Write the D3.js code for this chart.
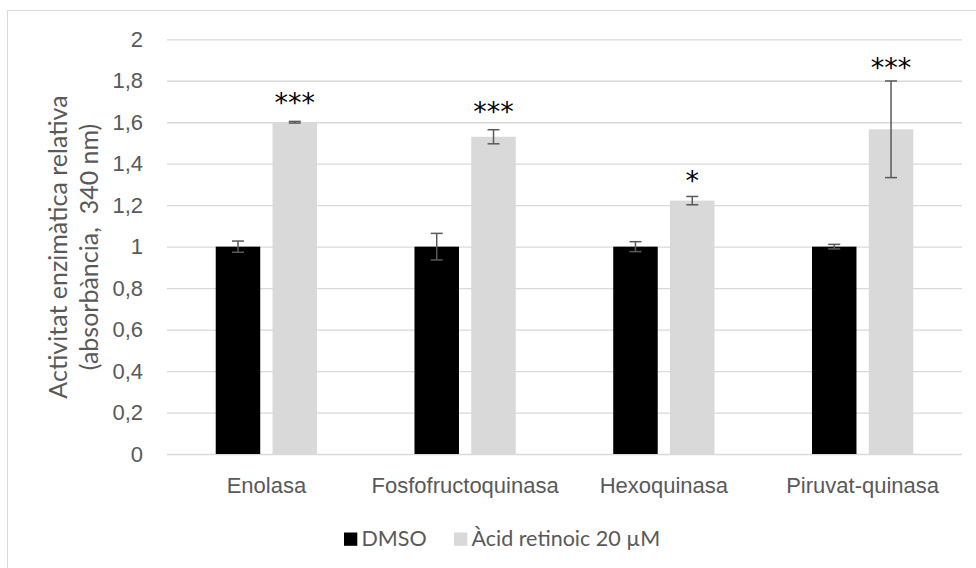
<!DOCTYPE html>
<html lang="ca">
<head>
    <meta charset="UTF-8">
    <title>Activitat enzimàtica relativa</title>
    <script src="https://d3js.org/d3.v7.min.js"></script>
    <style>
        body { margin: 0; background: #fff; }
        svg { display: block; font-family: Lato, "Open Sans", sans-serif; }
        .grid line { stroke: #d9d9d9; stroke-width: 1.3; }
        .axis text { fill: #595959; font-size: 22px; }
        .err { stroke: #595959; stroke-width: 1.5; }
        .star { font-family: "DejaVu Sans", sans-serif; font-size: 27px; fill: #000; }
    </style>
</head>
<body>
    <svg id="chart" width="976" height="568"></svg>

    <script>
        // data
        const categories = ["Enolasa", "Fosfofructoquinasa", "Hexoquinasa", "Piruvat-quinasa"];
        const series = ["DMSO", "Àcid retinoic 20 µM"];
        const dmsoValues = [1, 1, 1, 1];
        const dmsoErrors = [0.027, 0.064, 0.024, 0.011];
        const retinoicValues = [1.6, 1.53, 1.222, 1.566];
        const retinoicErrors = [0.004, 0.034, 0.02, 0.233];
        const stars = ["***", "***", "*", "***"];
        const starLevels = [1.705, 1.659, 1.328, 1.875];
        const yTicks = [0, 0.2, 0.4, 0.6, 0.8, 1, 1.2, 1.4, 1.6, 1.8, 2];

        const colors = d3.scaleOrdinal().domain(series).range(["#000000", "#d9d9d9"]);

        const svg = d3.select("#chart");
        const margin = { top: 39.3, right: 14, bottom: 114, left: 167 };
        const width = 976 - margin.left - margin.right;
        const height = 568 - margin.top - margin.bottom;

        // outer chart border
        svg.append("rect")
            .attr("x", 7.5).attr("y", 10.5)
            .attr("width", 1000).attr("height", 600)
            .attr("fill", "none").attr("stroke", "#d9d9d9");

        const chart = svg.append("g").attr("transform", `translate(${margin.left},${margin.top})`);

        const x0 = d3.scaleBand().domain(categories).range([0, width]);
        const x1 = d3.scaleBand().domain(series).range([0, x0.bandwidth()])
            .paddingInner(0.2166).paddingOuter(0.858);
        const y = d3.scaleLinear().domain([0, 2]).range([height, 0]);

        const locale = d3.formatLocale({ decimal: ",", thousands: ".", grouping: [3], currency: ["", "€"] });
        const fmt = locale.format("~g");

        // y axis + gridlines
        const yAxis = chart.append("g")
            .attr("class", "axis grid")
            .call(d3.axisLeft(y).tickValues(yTicks).tickSize(-width).tickPadding(24).tickFormat(fmt));
        yAxis.select(".domain").remove();

        // x axis
        const xAxis = chart.append("g")
            .attr("class", "axis")
            .attr("transform", `translate(0,${height})`)
            .call(d3.axisBottom(x0).tickSize(0));
        xAxis.select(".domain").remove();
        xAxis.selectAll("text").attr("y", 38.5).attr("dy", 0);

        const rows = categories.map((c, i) => ({
            category: c,
            bars: [
                { key: series[0], value: dmsoValues[i], err: dmsoErrors[i] },
                { key: series[1], value: retinoicValues[i], err: retinoicErrors[i] }
            ],
            star: stars[i],
            starLevel: starLevels[i]
        }));

        const groups = chart.selectAll(".group")
            .data(rows)
            .enter().append("g")
            .attr("class", "group")
            .attr("transform", d => `translate(${x0(d.category)},0)`);

        groups.selectAll("rect")
            .data(d => d.bars)
            .enter().append("rect")
            .attr("x", d => x1(d.key))
            .attr("y", d => y(d.value))
            .attr("width", x1.bandwidth())
            .attr("height", d => y(0) - y(d.value))
            .attr("fill", d => colors(d.key));

        // error bars
        const capW = 12;
        const eb = groups.selectAll(".eb")
            .data(d => d.bars)
            .enter().append("g")
            .attr("class", "eb");
        eb.append("line").attr("class", "err")
            .attr("x1", d => x1(d.key) + x1.bandwidth() / 2)
            .attr("x2", d => x1(d.key) + x1.bandwidth() / 2)
            .attr("y1", d => y(d.value - d.err))
            .attr("y2", d => y(d.value + d.err));
        eb.append("line").attr("class", "err")
            .attr("x1", d => x1(d.key) + x1.bandwidth() / 2 - capW / 2)
            .attr("x2", d => x1(d.key) + x1.bandwidth() / 2 + capW / 2)
            .attr("y1", d => y(d.value + d.err))
            .attr("y2", d => y(d.value + d.err));
        eb.append("line").attr("class", "err")
            .attr("x1", d => x1(d.key) + x1.bandwidth() / 2 - capW / 2)
            .attr("x2", d => x1(d.key) + x1.bandwidth() / 2 + capW / 2)
            .attr("y1", d => y(d.value - d.err))
            .attr("y2", d => y(d.value - d.err));

        // significance stars
        groups.append("text")
            .attr("class", "star")
            .attr("text-anchor", "middle")
            .attr("x", x1(series[1]) + x1.bandwidth() / 2)
            .attr("y", d => y(d.starLevel))
            .attr("dy", "0.425em")
            .text(d => d.star);

        // y axis title
        const title = svg.append("text")
            .attr("transform", "translate(0,247) rotate(-90)")
            .attr("text-anchor", "middle")
            .attr("fill", "#595959")
            .style("font-size", "25px");
        title.append("tspan").attr("x", 0).attr("y", 67).text("Activitat enzimàtica relativa");
        title.append("tspan").attr("x", 0).attr("y", 97.5).attr("xml:space", "preserve")
            .style("white-space", "pre").text("(absorbància,  340 nm)");

        // legend
        const legendPos = [344, 454];
        const legend = svg.selectAll(".legend")
            .data(series)
            .enter().append("g")
            .attr("class", "legend")
            .attr("transform", (d, i) => `translate(${legendPos[i]},532.5)`);
        legend.append("rect")
            .attr("width", 13.3).attr("height", 13.3)
            .attr("fill", d => colors(d));
        legend.append("text")
            .attr("x", 17.5).attr("y", 13.5)
            .attr("fill", "#595959")
            .style("font-size", "21.5px")
            .text(d => d);
    </script>
</body>
</html>
